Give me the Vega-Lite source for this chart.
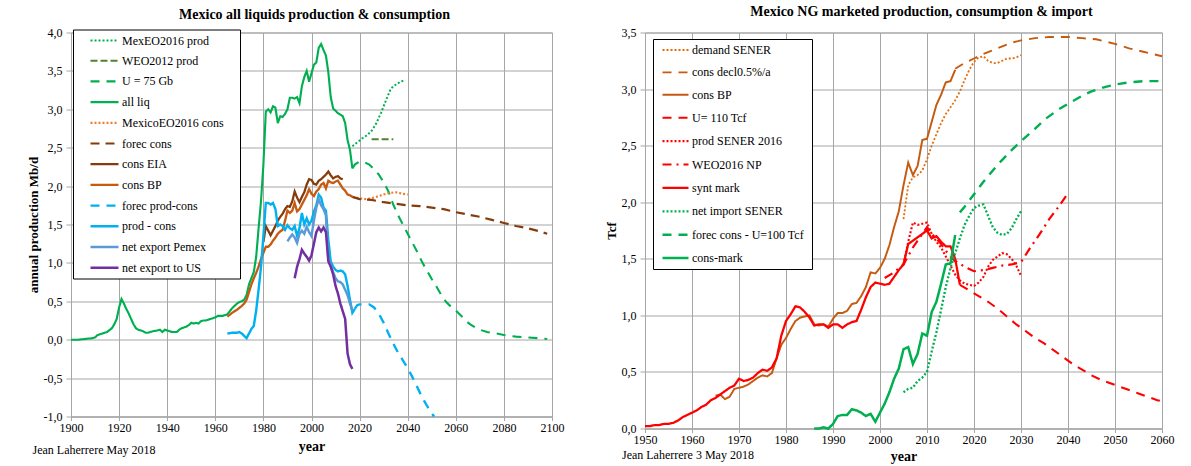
{
  "$schema": "https://vega.github.io/schema/vega-lite/v6.json",
  "background": "white",
  "padding": {"left": 26, "top": 4.5, "right": 2, "bottom": 0},
  "bounds": "flush",
  "spacing": 93,
  "config": {
    "font": "Liberation Serif",
    "view": {"stroke": "#a6a6a6", "strokeWidth": 1},
    "axis": {
      "labelFont": "Liberation Serif", "labelFontSize": 12, "labelColor": "#000",
      "titleFont": "Liberation Serif", "titleFontSize": 13, "titleFontWeight": "bold", "titleColor": "#000",
      "gridColor": "#a6a6a6", "gridWidth": 1, "gridOpacity": 1,
      "domainColor": "#a6a6a6", "tickColor": "#a6a6a6", "tickSize": 4,
      "labelOverlap": false, "labelFlush": false
    },
    "title": {"font": "Liberation Serif", "fontSize": 14, "fontWeight": "bold", "color": "#000"},
    "legend": {"labelFont": "Liberation Serif", "labelFontSize": 12, "labelColor": "#000", "strokeColor": "#000", "fillColor": "#fff", "title": null, "labelLimit": 300}
  },
  "resolve": {
    "scale": {"color": "independent", "strokeDash": "independent", "strokeWidth": "independent"},
    "legend": {"color": "independent", "strokeDash": "independent", "strokeWidth": "independent"}
  },
  "datasets": {
    "liq": [
      {"s":"MexEO2016 prod","x":2017,"y":2.52},{"s":"MexEO2016 prod","x":2019,"y":2.57},{"s":"MexEO2016 prod","x":2021,"y":2.62},{"s":"MexEO2016 prod","x":2023,"y":2.66},{"s":"MexEO2016 prod","x":2025,"y":2.72},{"s":"MexEO2016 prod","x":2027,"y":2.82},{"s":"MexEO2016 prod","x":2029,"y":2.96},{"s":"MexEO2016 prod","x":2031,"y":3.12},{"s":"MexEO2016 prod","x":2033,"y":3.27},{"s":"MexEO2016 prod","x":2035,"y":3.32},{"s":"MexEO2016 prod","x":2037,"y":3.36},{"s":"MexEO2016 prod","x":2039,"y":3.38},
      {"s":"WEO2012 prod","x":2025,"y":2.61},{"s":"WEO2012 prod","x":2034,"y":2.61},
      {"s":"U = 75 Gb","x":2017,"y":2.23},{"s":"U = 75 Gb","x":2018,"y":2.28},{"s":"U = 75 Gb","x":2020,"y":2.32},{"s":"U = 75 Gb","x":2022,"y":2.31},{"s":"U = 75 Gb","x":2024,"y":2.28},{"s":"U = 75 Gb","x":2026,"y":2.22},{"s":"U = 75 Gb","x":2028,"y":2.15},{"s":"U = 75 Gb","x":2030,"y":2.05},{"s":"U = 75 Gb","x":2032,"y":1.93},{"s":"U = 75 Gb","x":2034,"y":1.76},{"s":"U = 75 Gb","x":2036,"y":1.62},{"s":"U = 75 Gb","x":2038,"y":1.50},{"s":"U = 75 Gb","x":2040,"y":1.38},{"s":"U = 75 Gb","x":2042,"y":1.26},{"s":"U = 75 Gb","x":2044,"y":1.14},{"s":"U = 75 Gb","x":2046,"y":1.01},{"s":"U = 75 Gb","x":2048,"y":0.90},{"s":"U = 75 Gb","x":2050,"y":0.79},{"s":"U = 75 Gb","x":2052,"y":0.69},{"s":"U = 75 Gb","x":2054,"y":0.58},{"s":"U = 75 Gb","x":2056,"y":0.49},{"s":"U = 75 Gb","x":2058,"y":0.43},{"s":"U = 75 Gb","x":2060,"y":0.38},{"s":"U = 75 Gb","x":2062,"y":0.32},{"s":"U = 75 Gb","x":2064,"y":0.25},{"s":"U = 75 Gb","x":2066,"y":0.20},{"s":"U = 75 Gb","x":2068,"y":0.16},{"s":"U = 75 Gb","x":2070,"y":0.13},{"s":"U = 75 Gb","x":2073,"y":0.10},{"s":"U = 75 Gb","x":2077,"y":0.08},{"s":"U = 75 Gb","x":2080,"y":0.06},{"s":"U = 75 Gb","x":2085,"y":0.04},{"s":"U = 75 Gb","x":2090,"y":0.03},{"s":"U = 75 Gb","x":2098,"y":0.01},
      {"s":"all liq","x":1900,"y":0.00},{"s":"all liq","x":1903,"y":0.00},{"s":"all liq","x":1906,"y":0.01},{"s":"all liq","x":1909,"y":0.02},{"s":"all liq","x":1910,"y":0.03},{"s":"all liq","x":1911,"y":0.06},{"s":"all liq","x":1913,"y":0.08},{"s":"all liq","x":1915,"y":0.10},{"s":"all liq","x":1917,"y":0.15},{"s":"all liq","x":1918,"y":0.20},{"s":"all liq","x":1919,"y":0.27},{"s":"all liq","x":1920,"y":0.42},{"s":"all liq","x":1921,"y":0.53},{"s":"all liq","x":1922,"y":0.47},{"s":"all liq","x":1923,"y":0.40},{"s":"all liq","x":1924,"y":0.34},{"s":"all liq","x":1925,"y":0.27},{"s":"all liq","x":1926,"y":0.20},{"s":"all liq","x":1927,"y":0.15},{"s":"all liq","x":1928,"y":0.13},{"s":"all liq","x":1930,"y":0.11},{"s":"all liq","x":1931,"y":0.09},{"s":"all liq","x":1932,"y":0.09},{"s":"all liq","x":1934,"y":0.11},{"s":"all liq","x":1936,"y":0.12},{"s":"all liq","x":1937,"y":0.13},{"s":"all liq","x":1938,"y":0.10},{"s":"all liq","x":1939,"y":0.13},{"s":"all liq","x":1940,"y":0.12},{"s":"all liq","x":1941,"y":0.11},{"s":"all liq","x":1942,"y":0.10},{"s":"all liq","x":1944,"y":0.10},{"s":"all liq","x":1945,"y":0.13},{"s":"all liq","x":1946,"y":0.15},{"s":"all liq","x":1947,"y":0.16},{"s":"all liq","x":1948,"y":0.17},{"s":"all liq","x":1949,"y":0.19},{"s":"all liq","x":1950,"y":0.22},{"s":"all liq","x":1951,"y":0.21},{"s":"all liq","x":1952,"y":0.22},{"s":"all liq","x":1953,"y":0.21},{"s":"all liq","x":1954,"y":0.24},{"s":"all liq","x":1955,"y":0.25},{"s":"all liq","x":1956,"y":0.25},{"s":"all liq","x":1957,"y":0.26},{"s":"all liq","x":1958,"y":0.27},{"s":"all liq","x":1959,"y":0.28},{"s":"all liq","x":1960,"y":0.29},{"s":"all liq","x":1961,"y":0.31},{"s":"all liq","x":1962,"y":0.31},{"s":"all liq","x":1963,"y":0.31},{"s":"all liq","x":1964,"y":0.32},{"s":"all liq","x":1965,"y":0.33},{"s":"all liq","x":1966,"y":0.37},{"s":"all liq","x":1967,"y":0.41},{"s":"all liq","x":1968,"y":0.44},{"s":"all liq","x":1969,"y":0.47},{"s":"all liq","x":1970,"y":0.49},{"s":"all liq","x":1971,"y":0.50},{"s":"all liq","x":1972,"y":0.52},{"s":"all liq","x":1973,"y":0.58},{"s":"all liq","x":1974,"y":0.72},{"s":"all liq","x":1975,"y":0.80},{"s":"all liq","x":1976,"y":0.88},{"s":"all liq","x":1977,"y":1.08},{"s":"all liq","x":1978,"y":1.45},{"s":"all liq","x":1979,"y":1.80},{"s":"all liq","x":1980,"y":2.28},{"s":"all liq","x":1981,"y":2.97},{"s":"all liq","x":1982,"y":3.00},{"s":"all liq","x":1983,"y":2.96},{"s":"all liq","x":1984,"y":3.04},{"s":"all liq","x":1985,"y":3.02},{"s":"all liq","x":1986,"y":2.82},{"s":"all liq","x":1987,"y":2.91},{"s":"all liq","x":1988,"y":2.90},{"s":"all liq","x":1989,"y":2.94},{"s":"all liq","x":1990,"y":3.00},{"s":"all liq","x":1991,"y":3.15},{"s":"all liq","x":1992,"y":3.15},{"s":"all liq","x":1993,"y":3.14},{"s":"all liq","x":1994,"y":3.16},{"s":"all liq","x":1995,"y":3.08},{"s":"all liq","x":1996,"y":3.30},{"s":"all liq","x":1997,"y":3.42},{"s":"all liq","x":1998,"y":3.50},{"s":"all liq","x":1999,"y":3.36},{"s":"all liq","x":2000,"y":3.47},{"s":"all liq","x":2001,"y":3.58},{"s":"all liq","x":2002,"y":3.61},{"s":"all liq","x":2003,"y":3.80},{"s":"all liq","x":2004,"y":3.85},{"s":"all liq","x":2005,"y":3.77},{"s":"all liq","x":2006,"y":3.70},{"s":"all liq","x":2007,"y":3.48},{"s":"all liq","x":2008,"y":3.16},{"s":"all liq","x":2009,"y":3.01},{"s":"all liq","x":2010,"y":2.98},{"s":"all liq","x":2011,"y":2.95},{"s":"all liq","x":2012,"y":2.93},{"s":"all liq","x":2013,"y":2.91},{"s":"all liq","x":2014,"y":2.82},{"s":"all liq","x":2015,"y":2.60},{"s":"all liq","x":2016,"y":2.47},{"s":"all liq","x":2017,"y":2.23},
      {"s":"MexicoEO2016 cons","x":2017,"y":1.86},{"s":"MexicoEO2016 cons","x":2020,"y":1.84},{"s":"MexicoEO2016 cons","x":2023,"y":1.83},{"s":"MexicoEO2016 cons","x":2026,"y":1.85},{"s":"MexicoEO2016 cons","x":2029,"y":1.88},{"s":"MexicoEO2016 cons","x":2032,"y":1.91},{"s":"MexicoEO2016 cons","x":2035,"y":1.92},{"s":"MexicoEO2016 cons","x":2038,"y":1.90},{"s":"MexicoEO2016 cons","x":2040,"y":1.89},
      {"s":"forec cons","x":2017,"y":1.86},{"s":"forec cons","x":2020,"y":1.83},{"s":"forec cons","x":2025,"y":1.82},{"s":"forec cons","x":2030,"y":1.79},{"s":"forec cons","x":2035,"y":1.77},{"s":"forec cons","x":2040,"y":1.75},{"s":"forec cons","x":2045,"y":1.74},{"s":"forec cons","x":2050,"y":1.72},{"s":"forec cons","x":2055,"y":1.70},{"s":"forec cons","x":2060,"y":1.66},{"s":"forec cons","x":2065,"y":1.63},{"s":"forec cons","x":2070,"y":1.60},{"s":"forec cons","x":2075,"y":1.56},{"s":"forec cons","x":2080,"y":1.52},{"s":"forec cons","x":2085,"y":1.48},{"s":"forec cons","x":2090,"y":1.45},{"s":"forec cons","x":2095,"y":1.41},{"s":"forec cons","x":2098,"y":1.38},
      {"s":"cons EIA","x":1980,"y":1.27},{"s":"cons EIA","x":1981,"y":1.48},{"s":"cons EIA","x":1982,"y":1.42},{"s":"cons EIA","x":1983,"y":1.36},{"s":"cons EIA","x":1984,"y":1.42},{"s":"cons EIA","x":1985,"y":1.48},{"s":"cons EIA","x":1986,"y":1.55},{"s":"cons EIA","x":1987,"y":1.60},{"s":"cons EIA","x":1988,"y":1.64},{"s":"cons EIA","x":1989,"y":1.70},{"s":"cons EIA","x":1990,"y":1.74},{"s":"cons EIA","x":1991,"y":1.73},{"s":"cons EIA","x":1992,"y":1.80},{"s":"cons EIA","x":1993,"y":1.93},{"s":"cons EIA","x":1994,"y":1.85},{"s":"cons EIA","x":1995,"y":1.79},{"s":"cons EIA","x":1996,"y":1.86},{"s":"cons EIA","x":1997,"y":1.92},{"s":"cons EIA","x":1998,"y":2.02},{"s":"cons EIA","x":1999,"y":2.09},{"s":"cons EIA","x":2000,"y":2.08},{"s":"cons EIA","x":2001,"y":2.03},{"s":"cons EIA","x":2002,"y":2.02},{"s":"cons EIA","x":2003,"y":2.07},{"s":"cons EIA","x":2004,"y":2.09},{"s":"cons EIA","x":2005,"y":2.12},{"s":"cons EIA","x":2006,"y":2.15},{"s":"cons EIA","x":2007,"y":2.19},{"s":"cons EIA","x":2008,"y":2.14},{"s":"cons EIA","x":2009,"y":2.10},{"s":"cons EIA","x":2010,"y":2.12},{"s":"cons EIA","x":2011,"y":2.13},{"s":"cons EIA","x":2012,"y":2.10},{"s":"cons EIA","x":2013,"y":2.09},
      {"s":"cons BP","x":1965,"y":0.30},{"s":"cons BP","x":1967,"y":0.35},{"s":"cons BP","x":1969,"y":0.39},{"s":"cons BP","x":1971,"y":0.44},{"s":"cons BP","x":1972,"y":0.47},{"s":"cons BP","x":1973,"y":0.52},{"s":"cons BP","x":1974,"y":0.62},{"s":"cons BP","x":1975,"y":0.72},{"s":"cons BP","x":1976,"y":0.80},{"s":"cons BP","x":1977,"y":0.87},{"s":"cons BP","x":1978,"y":0.95},{"s":"cons BP","x":1979,"y":1.05},{"s":"cons BP","x":1980,"y":1.13},{"s":"cons BP","x":1981,"y":1.21},{"s":"cons BP","x":1982,"y":1.21},{"s":"cons BP","x":1983,"y":1.24},{"s":"cons BP","x":1984,"y":1.29},{"s":"cons BP","x":1985,"y":1.33},{"s":"cons BP","x":1986,"y":1.38},{"s":"cons BP","x":1987,"y":1.41},{"s":"cons BP","x":1988,"y":1.43},{"s":"cons BP","x":1989,"y":1.55},{"s":"cons BP","x":1990,"y":1.68},{"s":"cons BP","x":1991,"y":1.65},{"s":"cons BP","x":1992,"y":1.68},{"s":"cons BP","x":1993,"y":1.78},{"s":"cons BP","x":1994,"y":1.67},{"s":"cons BP","x":1995,"y":1.70},{"s":"cons BP","x":1996,"y":1.76},{"s":"cons BP","x":1997,"y":1.82},{"s":"cons BP","x":1998,"y":1.88},{"s":"cons BP","x":1999,"y":1.96},{"s":"cons BP","x":2000,"y":1.90},{"s":"cons BP","x":2001,"y":1.87},{"s":"cons BP","x":2002,"y":1.93},{"s":"cons BP","x":2003,"y":1.96},{"s":"cons BP","x":2004,"y":2.02},{"s":"cons BP","x":2005,"y":2.04},{"s":"cons BP","x":2006,"y":1.97},{"s":"cons BP","x":2007,"y":2.07},{"s":"cons BP","x":2008,"y":2.05},{"s":"cons BP","x":2009,"y":2.04},{"s":"cons BP","x":2010,"y":2.06},{"s":"cons BP","x":2011,"y":2.07},{"s":"cons BP","x":2012,"y":2.02},{"s":"cons BP","x":2013,"y":1.97},{"s":"cons BP","x":2014,"y":1.94},{"s":"cons BP","x":2015,"y":1.89},{"s":"cons BP","x":2016,"y":1.88},{"s":"cons BP","x":2017,"y":1.86},
      {"s":"forec prod-cons","x":2018,"y":0.40},{"s":"forec prod-cons","x":2019,"y":0.45},{"s":"forec prod-cons","x":2020,"y":0.46},{"s":"forec prod-cons","x":2022,"y":0.46},{"s":"forec prod-cons","x":2024,"y":0.46},{"s":"forec prod-cons","x":2026,"y":0.42},{"s":"forec prod-cons","x":2028,"y":0.34},{"s":"forec prod-cons","x":2030,"y":0.22},{"s":"forec prod-cons","x":2032,"y":0.08},{"s":"forec prod-cons","x":2034,"y":-0.05},{"s":"forec prod-cons","x":2036,"y":-0.17},{"s":"forec prod-cons","x":2038,"y":-0.27},{"s":"forec prod-cons","x":2040,"y":-0.37},{"s":"forec prod-cons","x":2042,"y":-0.49},{"s":"forec prod-cons","x":2044,"y":-0.62},{"s":"forec prod-cons","x":2046,"y":-0.75},{"s":"forec prod-cons","x":2048,"y":-0.86},{"s":"forec prod-cons","x":2050,"y":-0.96},{"s":"forec prod-cons","x":2051,"y":-1.0},
      {"s":"prod - cons","x":1965,"y":0.08},{"s":"prod - cons","x":1967,"y":0.09},{"s":"prod - cons","x":1969,"y":0.09},{"s":"prod - cons","x":1970,"y":0.10},{"s":"prod - cons","x":1971,"y":0.08},{"s":"prod - cons","x":1972,"y":0.05},{"s":"prod - cons","x":1973,"y":0.02},{"s":"prod - cons","x":1974,"y":0.08},{"s":"prod - cons","x":1975,"y":0.14},{"s":"prod - cons","x":1976,"y":0.18},{"s":"prod - cons","x":1977,"y":0.38},{"s":"prod - cons","x":1978,"y":0.65},{"s":"prod - cons","x":1979,"y":0.95},{"s":"prod - cons","x":1980,"y":1.35},{"s":"prod - cons","x":1981,"y":1.78},{"s":"prod - cons","x":1982,"y":1.78},{"s":"prod - cons","x":1983,"y":1.76},{"s":"prod - cons","x":1984,"y":1.78},{"s":"prod - cons","x":1985,"y":1.70},{"s":"prod - cons","x":1986,"y":1.48},{"s":"prod - cons","x":1987,"y":1.50},{"s":"prod - cons","x":1988,"y":1.48},{"s":"prod - cons","x":1989,"y":1.43},{"s":"prod - cons","x":1990,"y":1.49},{"s":"prod - cons","x":1991,"y":1.45},{"s":"prod - cons","x":1992,"y":1.43},{"s":"prod - cons","x":1993,"y":1.48},{"s":"prod - cons","x":1994,"y":1.35},{"s":"prod - cons","x":1995,"y":1.45},{"s":"prod - cons","x":1996,"y":1.65},{"s":"prod - cons","x":1997,"y":1.50},{"s":"prod - cons","x":1998,"y":1.58},{"s":"prod - cons","x":1999,"y":1.50},{"s":"prod - cons","x":2000,"y":1.55},{"s":"prod - cons","x":2001,"y":1.67},{"s":"prod - cons","x":2002,"y":1.75},{"s":"prod - cons","x":2003,"y":1.89},{"s":"prod - cons","x":2004,"y":1.85},{"s":"prod - cons","x":2005,"y":1.72},{"s":"prod - cons","x":2006,"y":1.68},{"s":"prod - cons","x":2007,"y":1.30},{"s":"prod - cons","x":2008,"y":1.02},{"s":"prod - cons","x":2009,"y":0.95},{"s":"prod - cons","x":2010,"y":0.91},{"s":"prod - cons","x":2011,"y":0.89},{"s":"prod - cons","x":2012,"y":0.90},{"s":"prod - cons","x":2013,"y":0.89},{"s":"prod - cons","x":2014,"y":0.85},{"s":"prod - cons","x":2015,"y":0.70},{"s":"prod - cons","x":2016,"y":0.52},{"s":"prod - cons","x":2017,"y":0.35},{"s":"prod - cons","x":2018,"y":0.40},
      {"s":"net export Pemex","x":1990,"y":1.28},{"s":"net export Pemex","x":1991,"y":1.33},{"s":"net export Pemex","x":1992,"y":1.37},{"s":"net export Pemex","x":1993,"y":1.33},{"s":"net export Pemex","x":1994,"y":1.26},{"s":"net export Pemex","x":1995,"y":1.38},{"s":"net export Pemex","x":1996,"y":1.42},{"s":"net export Pemex","x":1997,"y":1.38},{"s":"net export Pemex","x":1998,"y":1.47},{"s":"net export Pemex","x":1999,"y":1.40},{"s":"net export Pemex","x":2000,"y":1.35},{"s":"net export Pemex","x":2001,"y":1.55},{"s":"net export Pemex","x":2002,"y":1.72},{"s":"net export Pemex","x":2003,"y":1.83},{"s":"net export Pemex","x":2004,"y":1.75},{"s":"net export Pemex","x":2005,"y":1.70},{"s":"net export Pemex","x":2006,"y":1.62},{"s":"net export Pemex","x":2007,"y":1.05},{"s":"net export Pemex","x":2008,"y":0.97},{"s":"net export Pemex","x":2009,"y":0.88},{"s":"net export Pemex","x":2010,"y":0.80},{"s":"net export Pemex","x":2011,"y":0.76},{"s":"net export Pemex","x":2012,"y":0.75},{"s":"net export Pemex","x":2013,"y":0.72},{"s":"net export Pemex","x":2014,"y":0.65},{"s":"net export Pemex","x":2015,"y":0.58},{"s":"net export Pemex","x":2016,"y":0.47},{"s":"net export Pemex","x":2017,"y":0.38},
      {"s":"net export to US","x":1993,"y":0.80},{"s":"net export to US","x":1994,"y":0.95},{"s":"net export to US","x":1995,"y":1.05},{"s":"net export to US","x":1996,"y":1.17},{"s":"net export to US","x":1997,"y":1.12},{"s":"net export to US","x":1998,"y":1.08},{"s":"net export to US","x":1999,"y":1.03},{"s":"net export to US","x":2000,"y":1.10},{"s":"net export to US","x":2001,"y":1.25},{"s":"net export to US","x":2002,"y":1.40},{"s":"net export to US","x":2003,"y":1.46},{"s":"net export to US","x":2004,"y":1.41},{"s":"net export to US","x":2005,"y":1.46},{"s":"net export to US","x":2006,"y":1.40},{"s":"net export to US","x":2007,"y":1.02},{"s":"net export to US","x":2008,"y":0.95},{"s":"net export to US","x":2009,"y":0.85},{"s":"net export to US","x":2010,"y":0.70},{"s":"net export to US","x":2011,"y":0.60},{"s":"net export to US","x":2012,"y":0.47},{"s":"net export to US","x":2013,"y":0.37},{"s":"net export to US","x":2014,"y":0.27},{"s":"net export to US","x":2015,"y":-0.18},{"s":"net export to US","x":2016,"y":-0.32},{"s":"net export to US","x":2017,"y":-0.38}
    ],
    "ng": [
      {"s":"demand SENER","x":2005,"y":1.85},{"s":"demand SENER","x":2006,"y":2.15},{"s":"demand SENER","x":2007,"y":2.22},{"s":"demand SENER","x":2008,"y":2.24},{"s":"demand SENER","x":2009,"y":2.28},{"s":"demand SENER","x":2010,"y":2.38},{"s":"demand SENER","x":2011,"y":2.50},{"s":"demand SENER","x":2012,"y":2.60},{"s":"demand SENER","x":2013,"y":2.70},{"s":"demand SENER","x":2014,"y":2.78},{"s":"demand SENER","x":2015,"y":2.84},{"s":"demand SENER","x":2016,"y":2.90},{"s":"demand SENER","x":2017,"y":2.98},{"s":"demand SENER","x":2018,"y":3.08},{"s":"demand SENER","x":2019,"y":3.17},{"s":"demand SENER","x":2020,"y":3.24},{"s":"demand SENER","x":2021,"y":3.28},{"s":"demand SENER","x":2022,"y":3.29},{"s":"demand SENER","x":2023,"y":3.25},{"s":"demand SENER","x":2024,"y":3.23},{"s":"demand SENER","x":2025,"y":3.23},{"s":"demand SENER","x":2026,"y":3.25},{"s":"demand SENER","x":2027,"y":3.27},{"s":"demand SENER","x":2028,"y":3.27},{"s":"demand SENER","x":2029,"y":3.28},{"s":"demand SENER","x":2030,"y":3.30},
      {"s":"cons decl0.5%/a","x":2016,"y":3.18},{"s":"cons decl0.5%/a","x":2018,"y":3.23},{"s":"cons decl0.5%/a","x":2020,"y":3.27},{"s":"cons decl0.5%/a","x":2022,"y":3.31},{"s":"cons decl0.5%/a","x":2025,"y":3.36},{"s":"cons decl0.5%/a","x":2028,"y":3.41},{"s":"cons decl0.5%/a","x":2030,"y":3.43},{"s":"cons decl0.5%/a","x":2033,"y":3.45},{"s":"cons decl0.5%/a","x":2036,"y":3.46},{"s":"cons decl0.5%/a","x":2040,"y":3.46},{"s":"cons decl0.5%/a","x":2043,"y":3.45},{"s":"cons decl0.5%/a","x":2046,"y":3.44},{"s":"cons decl0.5%/a","x":2050,"y":3.40},{"s":"cons decl0.5%/a","x":2053,"y":3.36},{"s":"cons decl0.5%/a","x":2056,"y":3.33},{"s":"cons decl0.5%/a","x":2060,"y":3.29},
      {"s":"cons BP","x":1965,"y":0.29},{"s":"cons BP","x":1966,"y":0.30},{"s":"cons BP","x":1967,"y":0.26},{"s":"cons BP","x":1968,"y":0.28},{"s":"cons BP","x":1969,"y":0.35},{"s":"cons BP","x":1970,"y":0.36},{"s":"cons BP","x":1971,"y":0.37},{"s":"cons BP","x":1972,"y":0.39},{"s":"cons BP","x":1973,"y":0.42},{"s":"cons BP","x":1974,"y":0.45},{"s":"cons BP","x":1975,"y":0.47},{"s":"cons BP","x":1976,"y":0.46},{"s":"cons BP","x":1977,"y":0.49},{"s":"cons BP","x":1978,"y":0.62},{"s":"cons BP","x":1979,"y":0.74},{"s":"cons BP","x":1980,"y":0.80},{"s":"cons BP","x":1981,"y":0.88},{"s":"cons BP","x":1982,"y":0.95},{"s":"cons BP","x":1983,"y":0.98},{"s":"cons BP","x":1984,"y":0.99},{"s":"cons BP","x":1985,"y":1.00},{"s":"cons BP","x":1986,"y":0.92},{"s":"cons BP","x":1987,"y":0.91},{"s":"cons BP","x":1988,"y":0.92},{"s":"cons BP","x":1989,"y":0.90},{"s":"cons BP","x":1990,"y":0.97},{"s":"cons BP","x":1991,"y":1.02},{"s":"cons BP","x":1992,"y":1.02},{"s":"cons BP","x":1993,"y":1.04},{"s":"cons BP","x":1994,"y":1.10},{"s":"cons BP","x":1995,"y":1.11},{"s":"cons BP","x":1996,"y":1.17},{"s":"cons BP","x":1997,"y":1.25},{"s":"cons BP","x":1998,"y":1.38},{"s":"cons BP","x":1999,"y":1.37},{"s":"cons BP","x":2000,"y":1.42},{"s":"cons BP","x":2001,"y":1.50},{"s":"cons BP","x":2002,"y":1.62},{"s":"cons BP","x":2003,"y":1.78},{"s":"cons BP","x":2004,"y":1.92},{"s":"cons BP","x":2005,"y":2.15},{"s":"cons BP","x":2006,"y":2.35},{"s":"cons BP","x":2007,"y":2.24},{"s":"cons BP","x":2008,"y":2.32},{"s":"cons BP","x":2009,"y":2.55},{"s":"cons BP","x":2010,"y":2.56},{"s":"cons BP","x":2011,"y":2.71},{"s":"cons BP","x":2012,"y":2.86},{"s":"cons BP","x":2013,"y":2.95},{"s":"cons BP","x":2014,"y":3.06},{"s":"cons BP","x":2015,"y":3.07},{"s":"cons BP","x":2016,"y":3.17},
      {"s":"U= 110 Tcf","x":2017,"y":1.27},{"s":"U= 110 Tcf","x":2019,"y":1.22},{"s":"U= 110 Tcf","x":2021,"y":1.17},{"s":"U= 110 Tcf","x":2023,"y":1.12},{"s":"U= 110 Tcf","x":2025,"y":1.06},{"s":"U= 110 Tcf","x":2027,"y":0.99},{"s":"U= 110 Tcf","x":2029,"y":0.92},{"s":"U= 110 Tcf","x":2031,"y":0.86},{"s":"U= 110 Tcf","x":2033,"y":0.80},{"s":"U= 110 Tcf","x":2035,"y":0.75},{"s":"U= 110 Tcf","x":2037,"y":0.69},{"s":"U= 110 Tcf","x":2039,"y":0.63},{"s":"U= 110 Tcf","x":2041,"y":0.57},{"s":"U= 110 Tcf","x":2043,"y":0.52},{"s":"U= 110 Tcf","x":2045,"y":0.47},{"s":"U= 110 Tcf","x":2047,"y":0.43},{"s":"U= 110 Tcf","x":2049,"y":0.40},{"s":"U= 110 Tcf","x":2051,"y":0.37},{"s":"U= 110 Tcf","x":2053,"y":0.34},{"s":"U= 110 Tcf","x":2055,"y":0.31},{"s":"U= 110 Tcf","x":2057,"y":0.28},{"s":"U= 110 Tcf","x":2059,"y":0.25},{"s":"U= 110 Tcf","x":2060,"y":0.24},
      {"s":"prod SENER 2016","x":2005,"y":1.45},{"s":"prod SENER 2016","x":2006,"y":1.65},{"s":"prod SENER 2016","x":2007,"y":1.82},{"s":"prod SENER 2016","x":2008,"y":1.80},{"s":"prod SENER 2016","x":2009,"y":1.81},{"s":"prod SENER 2016","x":2010,"y":1.82},{"s":"prod SENER 2016","x":2011,"y":1.72},{"s":"prod SENER 2016","x":2012,"y":1.65},{"s":"prod SENER 2016","x":2013,"y":1.60},{"s":"prod SENER 2016","x":2014,"y":1.52},{"s":"prod SENER 2016","x":2015,"y":1.44},{"s":"prod SENER 2016","x":2016,"y":1.36},{"s":"prod SENER 2016","x":2017,"y":1.31},{"s":"prod SENER 2016","x":2018,"y":1.28},{"s":"prod SENER 2016","x":2019,"y":1.27},{"s":"prod SENER 2016","x":2020,"y":1.26},{"s":"prod SENER 2016","x":2021,"y":1.29},{"s":"prod SENER 2016","x":2022,"y":1.34},{"s":"prod SENER 2016","x":2023,"y":1.43},{"s":"prod SENER 2016","x":2024,"y":1.49},{"s":"prod SENER 2016","x":2025,"y":1.52},{"s":"prod SENER 2016","x":2026,"y":1.55},{"s":"prod SENER 2016","x":2027,"y":1.54},{"s":"prod SENER 2016","x":2028,"y":1.50},{"s":"prod SENER 2016","x":2029,"y":1.44},{"s":"prod SENER 2016","x":2030,"y":1.35},
      {"s":"WEO2016 NP","x":2001,"y":1.33},{"s":"WEO2016 NP","x":2003,"y":1.38},{"s":"WEO2016 NP","x":2005,"y":1.45},{"s":"WEO2016 NP","x":2007,"y":1.60},{"s":"WEO2016 NP","x":2009,"y":1.72},{"s":"WEO2016 NP","x":2010,"y":1.78},{"s":"WEO2016 NP","x":2011,"y":1.72},{"s":"WEO2016 NP","x":2012,"y":1.68},{"s":"WEO2016 NP","x":2013,"y":1.63},{"s":"WEO2016 NP","x":2014,"y":1.57},{"s":"WEO2016 NP","x":2015,"y":1.52},{"s":"WEO2016 NP","x":2016,"y":1.48},{"s":"WEO2016 NP","x":2018,"y":1.43},{"s":"WEO2016 NP","x":2020,"y":1.39},{"s":"WEO2016 NP","x":2022,"y":1.40},{"s":"WEO2016 NP","x":2024,"y":1.42},{"s":"WEO2016 NP","x":2026,"y":1.44},{"s":"WEO2016 NP","x":2028,"y":1.45},{"s":"WEO2016 NP","x":2030,"y":1.47},{"s":"WEO2016 NP","x":2032,"y":1.60},{"s":"WEO2016 NP","x":2034,"y":1.72},{"s":"WEO2016 NP","x":2036,"y":1.85},{"s":"WEO2016 NP","x":2038,"y":1.96},{"s":"WEO2016 NP","x":2040,"y":2.08},
      {"s":"synt mark","x":1950,"y":0.02},{"s":"synt mark","x":1951,"y":0.02},{"s":"synt mark","x":1952,"y":0.03},{"s":"synt mark","x":1953,"y":0.03},{"s":"synt mark","x":1954,"y":0.04},{"s":"synt mark","x":1955,"y":0.04},{"s":"synt mark","x":1956,"y":0.05},{"s":"synt mark","x":1957,"y":0.07},{"s":"synt mark","x":1958,"y":0.10},{"s":"synt mark","x":1959,"y":0.12},{"s":"synt mark","x":1960,"y":0.14},{"s":"synt mark","x":1961,"y":0.16},{"s":"synt mark","x":1962,"y":0.19},{"s":"synt mark","x":1963,"y":0.21},{"s":"synt mark","x":1964,"y":0.25},{"s":"synt mark","x":1965,"y":0.27},{"s":"synt mark","x":1966,"y":0.30},{"s":"synt mark","x":1967,"y":0.33},{"s":"synt mark","x":1968,"y":0.36},{"s":"synt mark","x":1969,"y":0.38},{"s":"synt mark","x":1970,"y":0.44},{"s":"synt mark","x":1971,"y":0.42},{"s":"synt mark","x":1972,"y":0.43},{"s":"synt mark","x":1973,"y":0.45},{"s":"synt mark","x":1974,"y":0.49},{"s":"synt mark","x":1975,"y":0.52},{"s":"synt mark","x":1976,"y":0.51},{"s":"synt mark","x":1977,"y":0.54},{"s":"synt mark","x":1978,"y":0.62},{"s":"synt mark","x":1979,"y":0.82},{"s":"synt mark","x":1980,"y":0.95},{"s":"synt mark","x":1981,"y":1.01},{"s":"synt mark","x":1982,"y":1.08},{"s":"synt mark","x":1983,"y":1.07},{"s":"synt mark","x":1984,"y":1.03},{"s":"synt mark","x":1985,"y":0.98},{"s":"synt mark","x":1986,"y":0.91},{"s":"synt mark","x":1987,"y":0.92},{"s":"synt mark","x":1988,"y":0.92},{"s":"synt mark","x":1989,"y":0.89},{"s":"synt mark","x":1990,"y":0.92},{"s":"synt mark","x":1991,"y":0.92},{"s":"synt mark","x":1992,"y":0.89},{"s":"synt mark","x":1993,"y":0.92},{"s":"synt mark","x":1994,"y":0.94},{"s":"synt mark","x":1995,"y":0.95},{"s":"synt mark","x":1996,"y":1.05},{"s":"synt mark","x":1997,"y":1.16},{"s":"synt mark","x":1998,"y":1.25},{"s":"synt mark","x":1999,"y":1.29},{"s":"synt mark","x":2000,"y":1.28},{"s":"synt mark","x":2001,"y":1.27},{"s":"synt mark","x":2002,"y":1.28},{"s":"synt mark","x":2003,"y":1.34},{"s":"synt mark","x":2004,"y":1.40},{"s":"synt mark","x":2005,"y":1.45},{"s":"synt mark","x":2006,"y":1.63},{"s":"synt mark","x":2007,"y":1.66},{"s":"synt mark","x":2008,"y":1.69},{"s":"synt mark","x":2009,"y":1.72},{"s":"synt mark","x":2010,"y":1.75},{"s":"synt mark","x":2011,"y":1.68},{"s":"synt mark","x":2012,"y":1.70},{"s":"synt mark","x":2013,"y":1.65},{"s":"synt mark","x":2014,"y":1.61},{"s":"synt mark","x":2015,"y":1.61},{"s":"synt mark","x":2016,"y":1.50},{"s":"synt mark","x":2017,"y":1.27},
      {"s":"net import SENER","x":2005,"y":0.32},{"s":"net import SENER","x":2006,"y":0.35},{"s":"net import SENER","x":2007,"y":0.36},{"s":"net import SENER","x":2008,"y":0.42},{"s":"net import SENER","x":2009,"y":0.45},{"s":"net import SENER","x":2010,"y":0.50},{"s":"net import SENER","x":2011,"y":0.68},{"s":"net import SENER","x":2012,"y":0.85},{"s":"net import SENER","x":2013,"y":1.05},{"s":"net import SENER","x":2014,"y":1.25},{"s":"net import SENER","x":2015,"y":1.42},{"s":"net import SENER","x":2016,"y":1.55},{"s":"net import SENER","x":2017,"y":1.68},{"s":"net import SENER","x":2018,"y":1.80},{"s":"net import SENER","x":2019,"y":1.88},{"s":"net import SENER","x":2020,"y":1.95},{"s":"net import SENER","x":2021,"y":1.97},{"s":"net import SENER","x":2022,"y":1.98},{"s":"net import SENER","x":2023,"y":1.88},{"s":"net import SENER","x":2024,"y":1.78},{"s":"net import SENER","x":2025,"y":1.73},{"s":"net import SENER","x":2026,"y":1.71},{"s":"net import SENER","x":2027,"y":1.72},{"s":"net import SENER","x":2028,"y":1.77},{"s":"net import SENER","x":2029,"y":1.85},{"s":"net import SENER","x":2030,"y":1.92},
      {"s":"forec cons - U=100 Tcf","x":2017,"y":1.91},{"s":"forec cons - U=100 Tcf","x":2018,"y":1.96},{"s":"forec cons - U=100 Tcf","x":2020,"y":2.07},{"s":"forec cons - U=100 Tcf","x":2022,"y":2.18},{"s":"forec cons - U=100 Tcf","x":2025,"y":2.33},{"s":"forec cons - U=100 Tcf","x":2028,"y":2.46},{"s":"forec cons - U=100 Tcf","x":2030,"y":2.54},{"s":"forec cons - U=100 Tcf","x":2033,"y":2.65},{"s":"forec cons - U=100 Tcf","x":2035,"y":2.73},{"s":"forec cons - U=100 Tcf","x":2038,"y":2.82},{"s":"forec cons - U=100 Tcf","x":2040,"y":2.87},{"s":"forec cons - U=100 Tcf","x":2043,"y":2.94},{"s":"forec cons - U=100 Tcf","x":2045,"y":2.98},{"s":"forec cons - U=100 Tcf","x":2048,"y":3.02},{"s":"forec cons - U=100 Tcf","x":2050,"y":3.04},{"s":"forec cons - U=100 Tcf","x":2053,"y":3.06},{"s":"forec cons - U=100 Tcf","x":2056,"y":3.07},{"s":"forec cons - U=100 Tcf","x":2060,"y":3.07},
      {"s":"cons-mark","x":1986,"y":0.00},{"s":"cons-mark","x":1987,"y":0.00},{"s":"cons-mark","x":1988,"y":0.01},{"s":"cons-mark","x":1989,"y":0.00},{"s":"cons-mark","x":1990,"y":0.04},{"s":"cons-mark","x":1991,"y":0.11},{"s":"cons-mark","x":1992,"y":0.12},{"s":"cons-mark","x":1993,"y":0.12},{"s":"cons-mark","x":1994,"y":0.17},{"s":"cons-mark","x":1995,"y":0.16},{"s":"cons-mark","x":1996,"y":0.14},{"s":"cons-mark","x":1997,"y":0.11},{"s":"cons-mark","x":1998,"y":0.13},{"s":"cons-mark","x":1999,"y":0.06},{"s":"cons-mark","x":2000,"y":0.14},{"s":"cons-mark","x":2001,"y":0.22},{"s":"cons-mark","x":2002,"y":0.32},{"s":"cons-mark","x":2003,"y":0.44},{"s":"cons-mark","x":2004,"y":0.53},{"s":"cons-mark","x":2005,"y":0.70},{"s":"cons-mark","x":2006,"y":0.72},{"s":"cons-mark","x":2007,"y":0.57},{"s":"cons-mark","x":2008,"y":0.66},{"s":"cons-mark","x":2009,"y":0.84},{"s":"cons-mark","x":2010,"y":0.82},{"s":"cons-mark","x":2011,"y":1.03},{"s":"cons-mark","x":2012,"y":1.12},{"s":"cons-mark","x":2013,"y":1.28},{"s":"cons-mark","x":2014,"y":1.45},{"s":"cons-mark","x":2015,"y":1.46},{"s":"cons-mark","x":2016,"y":1.71}
    ]
  },
  "hconcat": [
    {
      "width": 481,
      "height": 384,
      "title": {"text": "Mexico all liquids production & consumption", "offset": 4.5, "dx": 3},
      "encoding": {
        "x": {"field": "x", "type": "quantitative", "scale": {"domain": [1900, 2100], "nice": false, "zero": false},
              "axis": {"title": "year", "titleFontSize": 14, "values": [1900,1920,1940,1960,1980,2000,2020,2040,2060,2080,2100], "format": "d", "labelPadding": 2, "titlePadding": 6, "labelOverlap": false}},
        "y": {"field": "y", "type": "quantitative", "scale": {"domain": [-1, 4], "nice": false, "zero": false},
              "axis": {"title": "annual production Mb/d", "values": [-1,-0.5,0,0.5,1,1.5,2,2.5,3,3.5,4], "labelExpr": "replace(replace(format(datum.value,'.1f'),'.',','),'\u2212','-')", "tickSize": 5, "labelPadding": 4, "titlePadding": 3, "labelOverlap": false, "labelFlush": false}}
      },
      "layer": [
        {
          "data": {"name": "liq"},
          "mark": {"type": "line"},
          "encoding": {
            "color": {"field": "s", "type": "nominal",
                      "scale": {"domain": ["MexEO2016 prod","WEO2012 prod","U = 75 Gb","all liq","MexicoEO2016 cons","forec cons","cons EIA","cons BP","forec prod-cons","prod - cons","net export Pemex","net export to US"],
                                "range": ["#00b050","#538135","#00b050","#00b050","#ed7d31","#843c0c","#843c0c","#c55a11","#00b0f0","#00b0f0","#5b9bd5","#7030a0"]},
                      "legend": {"orient": "none", "legendX": 2, "legendY": -3, "symbolType": "M1,0L5.667,0M24.33,0", "symbolSize": 144, "labelOffset": 30, "padding": 4, "rowPadding": 6.7}},
            "strokeDash": {"field": "s", "type": "nominal",
                      "scale": {"domain": ["MexEO2016 prod","WEO2012 prod","U = 75 Gb","all liq","MexicoEO2016 cons","forec cons","cons EIA","cons BP","forec prod-cons","prod - cons","net export Pemex","net export to US"],
                                "range": [[2,2],[7,3],[9,7],[1,0],[2,2],[9,6],[1,0],[1,0],[9,7],[1,0],[1,0],[1,0]]}},
            "strokeWidth": {"field": "s", "type": "nominal",
                      "scale": {"domain": ["MexEO2016 prod","WEO2012 prod","U = 75 Gb","all liq","MexicoEO2016 cons","forec cons","cons EIA","cons BP","forec prod-cons","prod - cons","net export Pemex","net export to US"],
                                "range": [2,2.5,2.5,3.5,2,2.5,3.5,3.5,2,2,2.5,2]}}
          }
        },
        {
          "data": {"values": [{"x": 1884, "y": -1.44, "t": "Jean Laherrere May 2018"}]},
          "mark": {"type": "text", "align": "left", "baseline": "middle", "fontSize": 12, "font": "Liberation Serif", "color": "#000"},
          "encoding": {"text": {"field": "t"}}
        }
      ]
    },
    {
      "width": 517,
      "height": 396,
      "title": {"text": "Mexico NG marketed production, consumption & import", "offset": 7.5, "dx": 18},
      "encoding": {
        "x": {"field": "x", "type": "quantitative", "scale": {"domain": [1950, 2060], "nice": false, "zero": false},
              "axis": {"title": "year", "titleFontSize": 14, "values": [1950,1960,1970,1980,1990,2000,2010,2020,2030,2040,2050,2060], "format": "d", "labelPadding": 2, "titlePadding": 4, "labelOverlap": false}},
        "y": {"field": "y", "type": "quantitative", "scale": {"domain": [0, 3.5], "nice": false, "zero": false},
              "axis": {"title": "Tcf", "values": [0,0.5,1,1.5,2,2.5,3,3.5], "labelExpr": "replace(format(datum.value,'.1f'),'.',',')", "tickSize": 5, "labelPadding": 4, "titlePadding": 3, "labelOverlap": false, "labelFlush": false}}
      },
      "layer": [
        {
          "data": {"name": "ng"},
          "mark": {"type": "line"},
          "encoding": {
            "color": {"field": "s", "type": "nominal",
                      "scale": {"domain": ["demand SENER","cons decl0.5%/a","cons BP","U= 110 Tcf","prod SENER 2016","WEO2016 NP","synt mark","net import SENER","forec cons - U=100 Tcf","cons-mark"],
                                "range": ["#e46c0a","#c55a11","#c55a11","#ff0000","#ff0000","#ff0000","#ff0000","#00b050","#00b050","#00b050"]},
                      "legend": {"orient": "none", "legendX": 8, "legendY": 6.5, "symbolType": "M-0.333,0L4,0M23,0", "symbolSize": 144, "labelOffset": 20, "padding": 4, "rowPadding": 9.4}},
            "strokeDash": {"field": "s", "type": "nominal",
                      "scale": {"domain": ["demand SENER","cons decl0.5%/a","cons BP","U= 110 Tcf","prod SENER 2016","WEO2016 NP","synt mark","net import SENER","forec cons - U=100 Tcf","cons-mark"],
                                "range": [[2,2],[9,7],[1,0],[9,7],[2,2],[9,5,2,5],[1,0],[2,2],[9,7],[1,0]]}},
            "strokeWidth": {"field": "s", "type": "nominal",
                      "scale": {"domain": ["demand SENER","cons decl0.5%/a","cons BP","U= 110 Tcf","prod SENER 2016","WEO2016 NP","synt mark","net import SENER","forec cons - U=100 Tcf","cons-mark"],
                                "range": [1.8,2.5,3.5,2,1.8,2,3.5,1.8,2.5,3.5]}}
          }
        },
        {
          "data": {"values": [{"x": 1945.1, "y": -0.23, "t": "Jean Laherrere 3 May 2018"}]},
          "mark": {"type": "text", "align": "left", "baseline": "middle", "fontSize": 12, "font": "Liberation Serif", "color": "#000"},
          "encoding": {"text": {"field": "t"}}
        }
      ]
    }
  ]
}
